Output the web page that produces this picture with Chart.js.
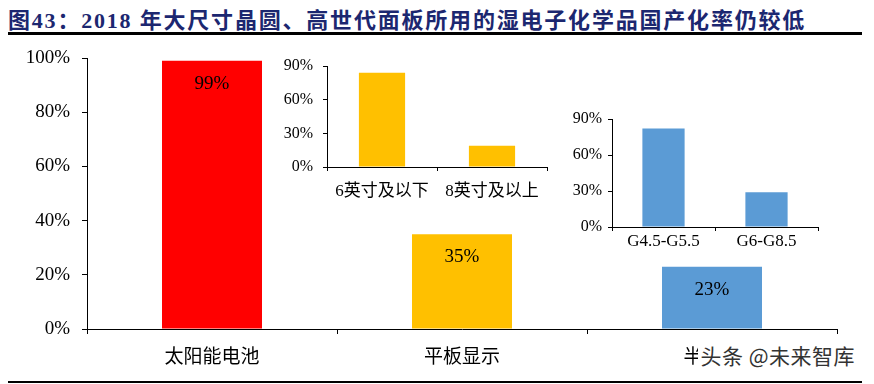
<!DOCTYPE html>
<html>
<head>
<meta charset="utf-8">
<script src="https://cdn.jsdelivr.net/npm/chart.js@4.4.1/dist/chart.umd.min.js"></script>
<style>
  body { margin: 0; background: #fff; }
  #wrap { position: relative; width: 874px; height: 384px; overflow: hidden; background: #fff; }
  #title {
    position: absolute; left: 8px; top: 2px;
    font: bold 22px 'Liberation Serif', 'Noto Sans CJK SC', serif;
    color: #1c2770; white-space: nowrap; letter-spacing: 1.8px;
  }
  .rule { position: absolute; left: 8px; width: 854px; background: #000; }
  canvas { position: absolute; }
  #mark {
    position: absolute; right: 19px; top: 340px; padding-left: 2px;
    font: 21px 'Noto Sans CJK SC', sans-serif; color: #333; background: #fff;
    letter-spacing: 0.5px;
  }
</style>
</head>
<body>
<div id="wrap">
  <div id="title">图43：2018 年大尺寸晶圆、高世代面板所用的湿电子化学品国产化率仍较低</div>
  <div class="rule" style="top:32px;height:3px"></div>
  <canvas id="main" width="874" height="344" style="left:0;top:40px"></canvas>
  <canvas id="wafer" width="340" height="160" style="left:230px;top:50px"></canvas>
  <canvas id="panel" width="354" height="160" style="left:520px;top:100px"></canvas>
  <div id="mark">头条 @未来智库</div>
  <div class="rule" style="top:381px;height:2px"></div>
</div>
<script>
// 国产化率（%）
const categories = ['太阳能电池', '平板显示', '半导体'];
const localRate = [99, 35, 23];
const mainColors = ['#FF0000', '#FFC000', '#5B9BD5'];
const mainTicks = [0, 20, 40, 60, 80, 100];

// 半导体：晶圆尺寸
const waferSizes = ['6英寸及以下', '8英寸及以上'];
const waferRate = [84, 19];

// 平板显示：面板世代
const panelGens = ['G4.5-G5.5', 'G6-G8.5'];
const panelRate = [82, 29];
const insetTicks = [0, 30, 60, 90];

const SERIF = "'Liberation Serif', 'Noto Sans CJK SC', serif";

// 柱内数值标签
const barLabels = {
    id: 'barLabels',
    afterDatasetsDraw(chart, args, opts) {
        if (!opts.show) return;
        const ctx = chart.ctx;
        const ds = chart.data.datasets[0];
        ctx.save();
        ctx.font = '19px ' + SERIF;
        ctx.fillStyle = '#000';
        ctx.textAlign = 'center';
        ctx.textBaseline = 'middle';
        chart.getDatasetMeta(0).data.forEach((bar, i) => {
            ctx.fillText(ds.data[i] + '%', bar.x, bar.y + 23);
        });
        ctx.restore();
    }
};

function makeChart(id, cfg) {
    return new Chart(document.getElementById(id), {
        type: 'bar',
        data: {
            labels: cfg.labels,
            datasets: [{
                data: cfg.data,
                backgroundColor: cfg.colors,
                barPercentage: cfg.barPct,
                categoryPercentage: 1
            }]
        },
        options: {
            responsive: false,
            devicePixelRatio: 1,
            animation: false,
            layout: { padding: cfg.padding },
            plugins: {
                legend: { display: false },
                tooltip: { enabled: false },
                barLabels: { show: cfg.showLabels }
            },
            scales: {
                x: {
                    grid: { drawOnChartArea: false, color: '#000', tickLength: cfg.xTick, offset: true },
                    border: { color: '#000', width: 1 },
                    ticks: { color: '#000', font: { family: SERIF, size: cfg.xFont }, padding: cfg.xPad, maxRotation: 0 },
                    afterFit(scale) { scale.height = cfg.xHeight; }
                },
                y: {
                    min: 0,
                    max: cfg.max,
                    afterBuildTicks(scale) { scale.ticks = cfg.ticks.map(v => ({ value: v })); },
                    grid: { drawOnChartArea: false, color: '#000', tickLength: cfg.yTick },
                    border: { color: '#000', width: 1 },
                    ticks: {
                        color: '#000',
                        font: { family: SERIF, size: cfg.yFont },
                        padding: cfg.yPad,
                        callback: v => v + '%'
                    },
                    afterFit(scale) {
                        scale.width = cfg.yWidth;
                        scale.paddingTop = 0;
                        scale.paddingBottom = 0;
                    }
                }
            }
        },
        plugins: [barLabels]
    });
}

makeChart('main', {
    labels: categories, data: localRate, colors: mainColors, barPct: 0.4,
    max: 100, ticks: mainTicks, showLabels: true,
    padding: { left: 0, top: 18, right: 37, bottom: 0 },
    xHeight: 55, xTick: 5, xPad: 13, xFont: 19,
    yWidth: 87, yTick: 5, yPad: 12, yFont: 19
});

makeChart('wafer', {
    labels: waferSizes, data: waferRate, colors: '#FFC000', barPct: 0.42,
    max: 90, ticks: insetTicks, showLabels: false,
    padding: { left: 0, top: 16, right: 23, bottom: 0 },
    xHeight: 43, xTick: 4, xPad: 10, xFont: 17,
    yWidth: 97, yTick: 4, yPad: 10, yFont: 16
});

makeChart('panel', {
    labels: panelGens, data: panelRate, colors: '#5B9BD5', barPct: 0.41,
    max: 90, ticks: insetTicks, showLabels: false,
    padding: { left: 0, top: 19, right: 56, bottom: 0 },
    xHeight: 33, xTick: 4, xPad: 0, xFont: 17,
    yWidth: 92, yTick: 4, yPad: 6, yFont: 16
});
</script>
</body>
</html>
